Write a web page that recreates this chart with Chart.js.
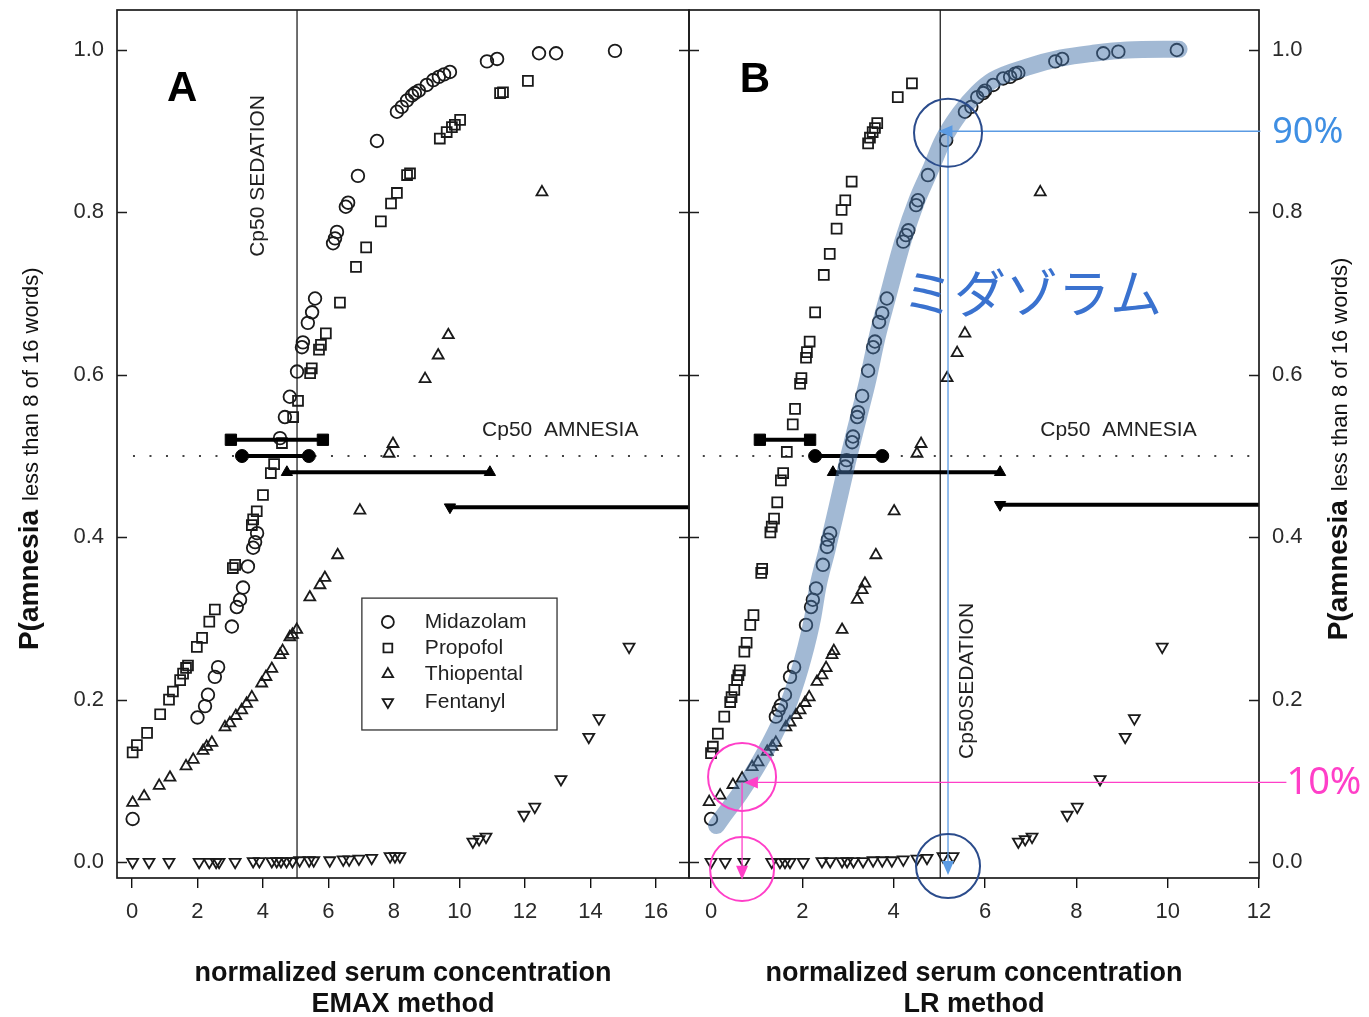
<!DOCTYPE html>
<html>
<head>
<meta charset="utf-8">
<script src="https://cdn.jsdelivr.net/npm/chart.js@4.4.1/dist/chart.umd.min.js"></script>
<style>
  html, body { margin: 0; padding: 0; background: #fff; overflow: hidden; }
  #wrap { position: relative; width: 1369px; height: 1017px; overflow: hidden; }
  #wrap canvas { position: absolute; left: 0; top: 0; }
</style>
</head>
<body>
<div id="wrap">
  <canvas id="chartA" width="1369" height="1020"></canvas>
  <canvas id="chartB" width="1369" height="1020"></canvas>
</div>
<script>
/* ---- data ---- */
const xTicksA = [0, 2, 4, 6, 8, 10, 12, 14, 16];
const xTicksB = [0, 2, 4, 6, 8, 10, 12];
const yTicks = [0, 0.2, 0.4, 0.6, 0.8, 1.0];
const drugNames = ['Midazolam', 'Propofol', 'Thiopental', 'Fentanyl'];

// panel A (EMAX method)
const midazolamA = [[0.02,0.053],[2.0,0.178],[2.23,0.192],[2.32,0.206],[2.53,0.228],[2.63,0.24],[3.05,0.29],[3.2,0.314],[3.3,0.323],[3.39,0.338],[3.54,0.364],[3.7,0.387],[3.76,0.394],[3.82,0.405],[4.52,0.522],[4.67,0.548],[4.82,0.573],[5.04,0.604],[5.19,0.634],[5.22,0.64],[5.37,0.664],[5.5,0.677],[5.59,0.694],[6.14,0.762],[6.2,0.768],[6.26,0.776],[6.53,0.807],[6.6,0.812],[6.9,0.845],[7.48,0.888],[8.09,0.924],[8.24,0.93],[8.4,0.938],[8.55,0.944],[8.64,0.947],[8.76,0.95],[9.0,0.957],[9.2,0.963],[9.37,0.967],[9.53,0.97],[9.71,0.973],[10.84,0.986],[11.15,0.989],[12.43,0.996],[12.95,0.996],[14.75,0.999]];
const propofolA = [[0.02,0.135],[0.15,0.144],[0.46,0.159],[0.86,0.182],[1.13,0.2],[1.25,0.21],[1.47,0.224],[1.56,0.232],[1.65,0.239],[1.71,0.242],[1.98,0.265],[2.14,0.276],[2.36,0.296],[2.53,0.311],[3.08,0.362],[3.15,0.366],[3.66,0.415],[3.7,0.422],[3.81,0.432],[4.0,0.452],[4.24,0.479],[4.34,0.49],[4.58,0.516],[4.92,0.548],[5.07,0.568],[5.44,0.602],[5.49,0.608],[5.71,0.631],[5.77,0.637],[5.92,0.651],[6.35,0.689],[6.84,0.733],[7.15,0.757],[7.6,0.789],[7.91,0.811],[8.09,0.824],[8.4,0.846],[8.49,0.848],[9.4,0.891],[9.61,0.899],[9.77,0.905],[9.86,0.908],[10.02,0.914],[11.24,0.947],[11.33,0.948],[12.09,0.962]];
const thiopentalA = [[0.02,0.073],[0.37,0.081],[0.83,0.094],[1.16,0.104],[1.65,0.118],[1.87,0.126],[2.17,0.137],[2.28,0.142],[2.44,0.147],[2.84,0.166],[2.99,0.171],[3.17,0.18],[3.35,0.187],[3.5,0.195],[3.66,0.203],[3.96,0.22],[4.09,0.228],[4.27,0.238],[4.52,0.255],[4.6,0.26],[4.82,0.277],[4.9,0.28],[5.03,0.286],[5.43,0.326],[5.74,0.341],[5.89,0.35],[6.28,0.378],[6.96,0.433],[7.85,0.503],[7.97,0.515],[8.95,0.595],[9.35,0.624],[9.66,0.649],[12.52,0.825]];
const fentanylA = [[0.02,0],[0.52,0],[1.13,0],[2.05,0],[2.36,0],[2.57,0],[2.66,0],[3.15,0],[3.7,0.001],[3.89,0.001],[4.27,0.001],[4.42,0.001],[4.55,0.001],[4.72,0.001],[4.9,0.001],[5.12,0.002],[5.41,0.002],[5.55,0.002],[6.04,0.002],[6.45,0.003],[6.63,0.003],[6.93,0.004],[7.32,0.005],[7.88,0.007],[8.03,0.007],[8.18,0.007],[10.41,0.025],[10.6,0.028],[10.81,0.031],[11.97,0.058],[12.3,0.068],[13.1,0.102],[13.95,0.154],[14.26,0.177],[15.18,0.265]];

// panel B (LR method)
const midazolamB = [[0.0,0.053],[1.42,0.179],[1.48,0.187],[1.53,0.193],[1.62,0.206],[1.73,0.228],[1.82,0.24],[2.08,0.292],[2.19,0.314],[2.23,0.323],[2.3,0.337],[2.45,0.366],[2.54,0.388],[2.56,0.397],[2.61,0.405],[2.94,0.487],[2.97,0.495],[3.09,0.517],[3.11,0.524],[3.2,0.548],[3.22,0.554],[3.31,0.574],[3.44,0.605],[3.55,0.634],[3.59,0.641],[3.68,0.665],[3.75,0.676],[3.85,0.694],[4.21,0.764],[4.27,0.772],[4.32,0.778],[4.49,0.809],[4.53,0.815],[4.75,0.846],[5.15,0.889],[5.56,0.924],[5.7,0.93],[5.83,0.942],[5.96,0.947],[6.0,0.95],[6.18,0.957],[6.4,0.965],[6.55,0.967],[6.66,0.971],[6.73,0.972],[7.54,0.986],[7.69,0.989],[8.59,0.996],[8.92,0.998],[10.2,1.0]];
const propofolB = [[0.0,0.134],[0.04,0.142],[0.15,0.158],[0.29,0.179],[0.42,0.197],[0.45,0.203],[0.51,0.212],[0.57,0.224],[0.6,0.23],[0.63,0.236],[0.73,0.259],[0.78,0.27],[0.86,0.292],[0.93,0.304],[1.1,0.356],[1.12,0.361],[1.3,0.406],[1.33,0.413],[1.38,0.423],[1.45,0.443],[1.53,0.47],[1.58,0.479],[1.66,0.505],[1.79,0.539],[1.84,0.558],[1.95,0.589],[1.98,0.596],[2.08,0.621],[2.1,0.628],[2.16,0.641],[2.28,0.677],[2.47,0.723],[2.6,0.749],[2.75,0.78],[2.86,0.803],[2.94,0.815],[3.08,0.838],[3.44,0.885],[3.48,0.892],[3.54,0.899],[3.59,0.904],[3.64,0.91],[4.09,0.942],[4.4,0.959]];
const thiopentalB = [[-0.04,0.074],[0.2,0.082],[0.48,0.095],[0.68,0.103],[0.9,0.117],[1.03,0.123],[1.23,0.136],[1.34,0.142],[1.42,0.147],[1.64,0.166],[1.73,0.172],[1.86,0.181],[1.95,0.187],[2.06,0.196],[2.15,0.203],[2.32,0.222],[2.43,0.23],[2.52,0.239],[2.65,0.255],[2.69,0.26],[2.87,0.286],[3.2,0.323],[3.31,0.335],[3.37,0.343],[3.61,0.378],[4.01,0.432],[4.51,0.503],[4.6,0.515],[5.17,0.596],[5.39,0.627],[5.56,0.651],[7.21,0.825]];
const fentanylB = [[0.0,0],[0.31,0],[0.72,0],[1.33,0],[1.51,0],[1.62,0],[1.73,0],[2.02,0],[2.43,0.001],[2.61,0.001],[2.87,0.001],[2.98,0.001],[3.12,0.001],[3.33,0.001],[3.55,0.002],[3.75,0.002],[3.96,0.002],[4.21,0.003],[4.51,0.004],[4.73,0.005],[5.08,0.007],[5.3,0.007],[6.73,0.025],[6.88,0.028],[7.03,0.031],[7.8,0.058],[8.02,0.068],[8.52,0.102],[9.07,0.154],[9.27,0.177],[9.88,0.265]];

// Cp50 amnesia ranges [from, to, level]
const cp50A = { propofol: [3.02, 5.83, 0.52], midazolam: [3.36, 5.4, 0.50], thiopental: [4.73, 10.93, 0.48], fentanyl: [9.71, 18, 0.437] };
const cp50B = { propofol: [1.07, 2.17, 0.52], midazolam: [2.28, 3.75, 0.50], thiopental: [2.67, 6.33, 0.48], fentanyl: [6.33, 13, 0.44] };
const sedationA = 5.04;
const sedationB = 5.02;

// hand-drawn midazolam band in panel B
const bandB = [[0.12,0.045],[0.26,0.056],[0.64,0.085],[1.0,0.117],[1.36,0.154],[1.73,0.2],[2.02,0.252],[2.23,0.302],[2.34,0.339],[2.54,0.384],[2.76,0.437],[2.98,0.491],[3.2,0.541],[3.42,0.59],[3.64,0.647],[3.85,0.692],[4.21,0.766],[4.51,0.815],[4.8,0.852],[5.08,0.889],[5.45,0.922],[5.83,0.947],[6.18,0.963],[6.92,0.979],[7.65,0.99],[8.37,0.996],[9.11,1.0],[10.25,1.001]];

const FONT = '"Liberation Sans", Arial, Helvetica, sans-serif';
const INK = '#1a1a1a';

Chart.defaults.font.family = FONT;

const pts = arr => arr.map(([x, y]) => ({ x, y }));

function markerSet(label, data, style, rotation) {
  return {
    label: label,
    data: pts(data),
    showLine: false,
    pointStyle: style,
    pointRotation: rotation || 0,
    pointRadius: style === 'rect' ? 7 : 6.3,
    pointBorderWidth: 1.8,
    pointBorderColor: INK,
    pointBackgroundColor: 'rgba(0,0,0,0)',
    order: 2,
  };
}

function rangeSet(range, style, rotation, leftOnly) {
  const size = style === 'rect' ? 8 : 6.5;
  return {
    data: [{ x: range[0], y: range[2] }, { x: range[1], y: range[2] }],
    showLine: true,
    borderColor: '#000',
    borderWidth: 4,
    pointStyle: style,
    pointRotation: rotation || 0,
    pointRadius: leftOnly ? [size, 0] : [size, size],
    pointBorderWidth: 1,
    pointBorderColor: '#000',
    pointBackgroundColor: '#000',
    order: 1,
  };
}

function vline(x, color, width) {
  return {
    data: [{ x: x, y: -0.1 }, { x: x, y: 1.2 }],
    showLine: true, borderColor: color, borderWidth: width, pointRadius: 0, order: 3,
  };
}

function dotted(x0, x1) {
  return {
    data: [{ x: x0, y: 0.5 }, { x: x1, y: 0.5 }],
    showLine: true, borderColor: '#444', borderWidth: 2.2, borderDash: [2, 14.5],
    pointRadius: 0, order: 4,
  };
}

function drawMarker(ctx, style, x, y, r) {
  ctx.beginPath();
  if (style === 'circle') {
    ctx.arc(x, y, r, 0, Math.PI * 2);
  } else if (style === 'rect') {
    ctx.rect(x - r * 0.8, y - r * 0.8, r * 1.6, r * 1.6);
  } else {
    const s = style === 'down' ? -1 : 1;
    ctx.moveTo(x, y - s * r);
    ctx.lineTo(x + r * 0.87, y + s * r * 0.5);
    ctx.lineTo(x - r * 0.87, y + s * r * 0.5);
    ctx.closePath();
  }
  ctx.stroke();
}

function drawYTitle(ctx, baseX, bottomY) {
  ctx.save();
  ctx.translate(baseX, bottomY);
  ctx.rotate(-Math.PI / 2);
  ctx.fillStyle = '#111';
  ctx.textAlign = 'left';
  ctx.textBaseline = 'alphabetic';
  ctx.font = 'bold 28px ' + FONT;
  ctx.fillText('P(amnesia', 0, 0);
  const w = ctx.measureText('P(amnesia').width;
  ctx.font = '22px ' + FONT;
  ctx.fillText('less than 8 of 16 words)', w + 9, 0);
  ctx.restore();
}

function text(ctx, str, x, y, font, color, align, rot) {
  ctx.save();
  ctx.translate(x, y);
  if (rot) ctx.rotate(rot);
  ctx.font = font;
  ctx.fillStyle = color;
  ctx.textAlign = align || 'center';
  ctx.textBaseline = 'middle';
  ctx.fillText(str, 0, 0);
  ctx.restore();
}

function arrow(ctx, x0, y0, x1, y1, color) {
  const ang = Math.atan2(y1 - y0, x1 - x0);
  const len = 14, half = 6;
  ctx.strokeStyle = color;
  ctx.fillStyle = color;
  ctx.lineWidth = 1.3;
  ctx.beginPath();
  ctx.moveTo(x0, y0);
  ctx.lineTo(x1 - Math.cos(ang) * len * 0.6, y1 - Math.sin(ang) * len * 0.6);
  ctx.stroke();
  ctx.beginPath();
  ctx.moveTo(x1, y1);
  ctx.lineTo(x1 - Math.cos(ang) * len - Math.sin(ang) * half, y1 - Math.sin(ang) * len + Math.cos(ang) * half);
  ctx.lineTo(x1 - Math.cos(ang) * len + Math.sin(ang) * half, y1 - Math.sin(ang) * len - Math.cos(ang) * half);
  ctx.closePath();
  ctx.fill();
}

// frame round the plot area with inward y ticks on both sides
const framePlugin = {
  id: 'frame',
  afterDatasetsDraw(chart) {
    const { ctx, chartArea: a, scales: { y } } = chart;
    ctx.save();
    ctx.strokeStyle = '#1c1c1c';
    ctx.lineWidth = 1.7;
    ctx.strokeRect(a.left, a.top, a.right - a.left, a.bottom - a.top);
    ctx.lineWidth = 1.3;
    yTicks.forEach(v => {
      const py = Math.round(y.getPixelForValue(v)) + 0.5;
      ctx.beginPath();
      ctx.moveTo(a.left, py); ctx.lineTo(a.left + 10, py);
      ctx.moveTo(a.right, py); ctx.lineTo(a.right - 10, py);
      ctx.stroke();
    });
    ctx.restore();
  }
};

function scales(xMin, xMax, xTicks, titleLine2, yPos, yWidth) {
  return {
    x: {
      type: 'linear', min: xMin, max: xMax,
      afterBuildTicks: s => { s.ticks = xTicks.map(v => ({ value: v })); },
      afterFit: s => { s.height = 142; s.paddingLeft = 0; s.paddingRight = 0; },
      grid: { display: true, drawOnChartArea: false, drawTicks: true, tickLength: 10, color: '#111', lineWidth: 1.4 },
      border: { display: false },
      ticks: { padding: 11, color: '#2a2a2a', font: { size: 22 }, maxRotation: 0, autoSkip: false, callback: v => String(v) },
      title: {
        display: true, text: ['normalized serum concentration', titleLine2], color: '#111',
        font: { size: 27, weight: 'bold', lineHeight: 1.15 }, padding: { top: 0, bottom: 0 },
      },
    },
    y: {
      type: 'linear', position: yPos, min: -0.0197, max: 1.0493,
      afterBuildTicks: s => { s.ticks = yTicks.map(v => ({ value: v })); },
      afterFit: s => { s.width = yWidth; s.paddingTop = 0; s.paddingBottom = 0; },
      grid: { display: false, drawTicks: false },
      border: { display: false },
      ticks: { padding: 13, color: '#2a2a2a', font: { size: 22 }, callback: v => v.toFixed(1) },
    },
  };
}

const baseOptions = {
  responsive: false,
  animation: false,
  devicePixelRatio: 1,
  events: [],
  plugins: { legend: { display: false }, tooltip: { enabled: false } },
};

/* ---- panel A ---- */
const panelA = {
  id: 'panelA',
  afterDraw(chart) {
    const { ctx, chartArea: a, scales: { x, y } } = chart;
    const sf = '21px ' + FONT;
    text(ctx, 'A', x.getPixelForValue(1.53), y.getPixelForValue(0.951), 'bold 42px ' + FONT, '#000');
    text(ctx, 'Cp50 SEDATION', x.getPixelForValue(3.85), y.getPixelForValue(0.845), sf, '#222', 'center', -Math.PI / 2);
    text(ctx, 'Cp50  AMNESIA', x.getPixelForValue(10.69), y.getPixelForValue(0.532), sf, '#222', 'left');

    // legend box
    const lx0 = x.getPixelForValue(7.02), lx1 = x.getPixelForValue(12.98);
    const ly0 = y.getPixelForValue(0.325), ly1 = y.getPixelForValue(0.1626);
    ctx.save();
    ctx.strokeStyle = '#333';
    ctx.lineWidth = 1.3;
    ctx.strokeRect(lx0, ly0, lx1 - lx0, ly1 - ly0);
    const styles = ['circle', 'rect', 'triangle', 'down'];
    const rowY = [0.2956, 0.2635, 0.2315, 0.197];
    ctx.lineWidth = 1.8;
    ctx.strokeStyle = INK;
    drugNames.forEach((name, i) => {
      const py = y.getPixelForValue(rowY[i]);
      drawMarker(ctx, styles[i], lx0 + 26, py, styles[i] === 'rect' ? 5.5 : 6);
      text(ctx, name, lx0 + 63, py, sf, '#222', 'left');
    });
    ctx.restore();

    drawYTitle(ctx, a.left - 79, y.getPixelForValue(0.261));
  }
};

new Chart(document.getElementById('chartA'), {
  type: 'scatter',
  data: {
    datasets: [
      rangeSet(cp50A.propofol, 'rect'),
      rangeSet(cp50A.midazolam, 'circle'),
      rangeSet(cp50A.thiopental, 'triangle'),
      rangeSet(cp50A.fentanyl, 'triangle', 180, true),
      markerSet(drugNames[0], midazolamA, 'circle'),
      markerSet(drugNames[1], propofolA, 'rect'),
      markerSet(drugNames[2], thiopentalA, 'triangle'),
      markerSet(drugNames[3], fentanylA, 'triangle', 180),
      vline(sedationA, '#222', 1.3),
      dotted(0.03, 17.01),
    ],
  },
  options: Object.assign({}, baseOptions, {
    layout: { padding: { left: 0, top: 10, right: 680, bottom: 0 } },
    scales: scales(-0.458, 17.01, xTicksA, 'EMAX method', 'left', 117),
  }),
  plugins: [framePlugin, panelA],
});

/* ---- panel B ---- */
const panelB = {
  id: 'panelB',
  afterDraw(chart) {
    const { ctx, chartArea: a, scales: { x, y } } = chart;
    const sf = '21px ' + FONT;
    const px = v => x.getPixelForValue(v), py = v => y.getPixelForValue(v);
    text(ctx, 'B', px(0.96), py(0.963), 'bold 42px ' + FONT, '#000');
    text(ctx, 'Cp50SEDATION', px(5.61), py(0.223), sf, '#222', 'center', -Math.PI / 2);
    text(ctx, 'Cp50  AMNESIA', px(7.21), py(0.532), sf, '#222', 'left');
    drawYTitle(ctx, a.right + 88, py(0.273));

    // annotations
    ctx.save();
    const blue = '#5b9be3', navy = '#2b4c8c', pink = '#ff3fc8';
    arrow(ctx, px(12.03), py(0.9), px(4.98), py(0.9), blue);
    arrow(ctx, px(5.19), py(0.9), px(5.19), py(-0.016), blue);
    arrow(ctx, px(12.6), py(0.098), px(0.72), py(0.098), pink);
    arrow(ctx, px(0.68), py(0.098), px(0.68), py(-0.022), pink);
    ctx.lineWidth = 2;
    [[5.19, 0.898, navy, 34], [5.19, -0.005, navy, 32], [0.68, 0.1047, pink, 34], [0.68, -0.0086, pink, 32]].forEach(c => {
      ctx.strokeStyle = c[2];
      ctx.beginPath();
      ctx.arc(px(c[0]), py(c[1]), c[3], 0, Math.PI * 2);
      ctx.stroke();
    });
    ctx.restore();
    text(ctx, '90%', px(12.29), py(0.898), '36px "Noto Sans", sans-serif', '#3f8fe3', 'left');
    text(ctx, '10%', px(12.6), py(0.097), '38px "Noto Sans", sans-serif', pink, 'left');
    text(ctx, 'ミダゾラム', px(7.03), py(0.70), '52px "Noto Sans CJK JP", sans-serif', '#3a72cf');
  }
};

new Chart(document.getElementById('chartB'), {
  type: 'scatter',
  data: {
    datasets: [
      {
        data: pts(bandB), showLine: true, borderColor: 'rgba(70,115,170,0.5)', borderWidth: 17,
        borderCapStyle: 'round', borderJoinStyle: 'round', cubicInterpolationMode: 'monotone',
        pointRadius: 0, order: 0,
      },
      rangeSet(cp50B.propofol, 'rect'),
      rangeSet(cp50B.midazolam, 'circle'),
      rangeSet(cp50B.thiopental, 'triangle'),
      rangeSet(cp50B.fentanyl, 'triangle', 180, true),
      markerSet(drugNames[0], midazolamB, 'circle'),
      markerSet(drugNames[1], propofolB, 'rect'),
      markerSet(drugNames[2], thiopentalB, 'triangle'),
      markerSet(drugNames[3], fentanylB, 'triangle', 180),
      vline(sedationB, '#222', 1.3),
      dotted(-0.18, 12.0),
    ],
  },
  options: Object.assign({}, baseOptions, {
    layout: { padding: { left: 689, top: 10, right: 0, bottom: 0 } },
    scales: scales(-0.482, 12.0, xTicksB, 'LR method', 'right', 110),
  }),
  plugins: [framePlugin, panelB],
});
</script>
</body>
</html>
